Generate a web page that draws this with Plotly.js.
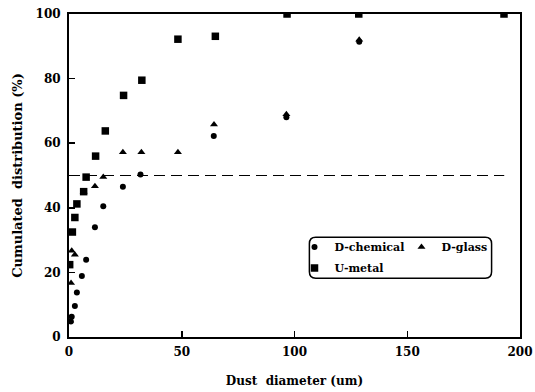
<!DOCTYPE html>
<html>
<head>
<meta charset="utf-8">
<script src="https://cdn.plot.ly/plotly-3.0.1.min.js"></script>
<style>html,body{margin:0;padding:0;background:#fff;}#chart{width:535px;height:392px;}</style>
</head>
<body>
<div id="chart"></div>
<script>
// Data
const chemX = [0.8, 1.2, 2.6, 3.5, 5.7, 7.6, 11.5, 15.2, 23.9, 31.7, 64.2, 96.4, 128.7];
const chemY = [4.8, 6.3, 9.6, 13.8, 18.9, 23.9, 34.0, 40.5, 46.5, 50.3, 62.2, 68.0, 91.4];

const glassX = [0.5, 0.9, 1.2, 2.6, 6.5, 11.5, 15.2, 23.9, 32.1, 48.3, 64.3, 96.4, 128.7];
const glassY = [5.0, 16.7, 26.7, 25.5, 45.0, 46.7, 49.5, 57.2, 57.2, 57.2, 65.8, 69.0, 92.0];

const metalX = [0.3, 1.5, 2.6, 3.5, 6.5, 7.6, 11.8, 16.1, 24.2, 32.3, 48.3, 64.9, 96.7, 128.5, 192.9];
const metalY = [22.4, 32.5, 37.0, 41.2, 45.0, 49.5, 56.0, 63.8, 74.8, 79.5, 92.2, 93.1, 100, 100, 100];

const refX = [0, 193];
const refY = [50, 50];

const xTicks = [0, 50, 100, 150, 200];
const yTicks = [0, 20, 40, 60, 80, 100];

const FONT = "DejaVu Serif, Liberation Serif, serif";

const traces = [
  {x: refX, y: refY, mode: 'lines', showlegend: false, hoverinfo: 'skip',
   line: {color: '#000', width: 1, dash: '11px,6px'}},
  {x: chemX, y: chemY, mode: 'markers', name: 'D-chemical', legend: 'legend',
   marker: {symbol: 'circle', size: 6, color: '#000'}},
  {x: glassX, y: glassY, mode: 'markers', name: 'D-glass', legend: 'legend',
   marker: {symbol: 'triangle-up', size: 7, color: '#000'}},
  {x: metalX, y: metalY, mode: 'markers', name: 'U-metal', legend: 'legend2',
   marker: {symbol: 'square', size: 7.5, color: '#000'}}
];

// rounded legend box (paper coords)
const L = 0.533, R = 0.937, B = 0.182, T = 0.309, rx = 0.014, ry = 0.02;
const boxPath = `M ${L+rx},${T} L ${R-rx},${T} Q ${R},${T} ${R},${T-ry} L ${R},${B+ry} Q ${R},${B} ${R-rx},${B} L ${L+rx},${B} Q ${L},${B} ${L},${B+ry} L ${L},${T-ry} Q ${L},${T} ${L+rx},${T} Z`;

const layout = {
  width: 535, height: 392,
  margin: {l: 69, r: 15, t: 14, b: 55},
  paper_bgcolor: '#fff', plot_bgcolor: '#fff',
  font: {family: FONT, color: '#000'},
  xaxis: {
    range: [0, 200], tickvals: xTicks, ticktext: xTicks.map(String),
    showgrid: false, zeroline: false,
    showline: true, linecolor: '#000', linewidth: 2, mirror: true,
    ticks: 'inside', ticklen: 6, tickwidth: 1.5, tickcolor: '#000',
    ticklabelstandoff: 3,
    tickfont: {family: FONT, size: 12, weight: 'bold'},
    title: {text: 'Dust  diameter (um)', font: {family: FONT, size: 12, weight: 'bold'}, standoff: 18}
  },
  yaxis: {
    range: [0, 100], tickvals: yTicks, ticktext: yTicks.map(String),
    showgrid: false, zeroline: false,
    showline: true, linecolor: '#000', linewidth: 2, mirror: true,
    ticks: 'inside', ticklen: 6, tickwidth: 1.5, tickcolor: '#000',
    ticklabelstandoff: 4,
    tickfont: {family: FONT, size: 12, weight: 'bold'},
    title: {text: 'Cumulated  distribution (%)', font: {family: FONT, size: 13, weight: 'bold'}, standoff: 10}
  },
  legend: {
    orientation: 'h', x: 0.50, xanchor: 'left', y: 0.279, yanchor: 'middle',
    bgcolor: 'rgba(0,0,0,0)', borderwidth: 0,
    font: {family: FONT, size: 11, weight: 'bold'}, itemwidth: 30,
    entrywidth: 62, entrywidthmode: 'pixels'
  },
  legend2: {
    orientation: 'h', x: 0.50, xanchor: 'left', y: 0.214, yanchor: 'middle',
    bgcolor: 'rgba(0,0,0,0)', borderwidth: 0,
    font: {family: FONT, size: 11, weight: 'bold'}, itemwidth: 30
  },
  shapes: [
    {type: 'path', xref: 'paper', yref: 'paper', path: boxPath,
     line: {color: '#000', width: 1.5}, fillcolor: 'rgba(0,0,0,0)'}
  ]
};

Plotly.newPlot('chart', traces, layout, {displayModeBar: false, staticPlot: true});
</script>
</body>
</html>
